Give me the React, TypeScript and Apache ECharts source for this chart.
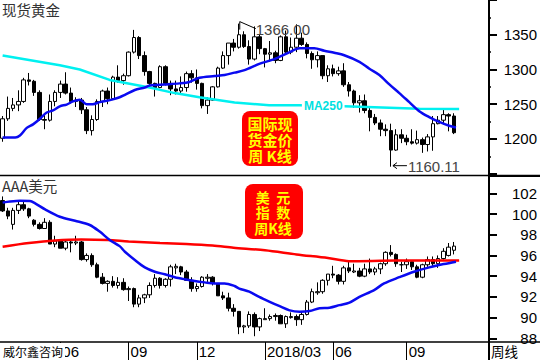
import React, { useEffect, useRef } from "react";
import * as echarts from "echarts";

// Weekly bars (Friday dates), last 6 slots are empty space on the right
const weeks = [
  "2017-03-17","2017-03-24","2017-03-31","2017-04-07","2017-04-14","2017-04-21","2017-04-28","2017-05-05","2017-05-12","2017-05-19",
  "2017-05-26","2017-06-02","2017-06-09","2017-06-16","2017-06-23","2017-06-30","2017-07-07","2017-07-14","2017-07-21","2017-07-28",
  "2017-08-04","2017-08-11","2017-08-18","2017-08-25","2017-09-01","2017-09-08","2017-09-15","2017-09-22","2017-09-29","2017-10-06",
  "2017-10-13","2017-10-20","2017-10-27","2017-11-03","2017-11-10","2017-11-17","2017-11-24","2017-12-01","2017-12-08","2017-12-15",
  "2017-12-22","2017-12-29","2018-01-05","2018-01-12","2018-01-19","2018-01-26","2018-02-02","2018-02-09","2018-02-16","2018-02-23",
  "2018-03-02","2018-03-09","2018-03-16","2018-03-23","2018-03-30","2018-04-06","2018-04-13","2018-04-20","2018-04-27","2018-05-04",
  "2018-05-11","2018-05-18","2018-05-25","2018-06-01","2018-06-08","2018-06-15","2018-06-22","2018-06-29","2018-07-06","2018-07-13",
  "2018-07-20","2018-07-27","2018-08-03","2018-08-10","2018-08-17","2018-08-24","2018-08-31","2018-09-07","2018-09-14","2018-09-21",
  "2018-09-28","2018-10-05","2018-10-12","2018-10-19","2018-10-26","2018-11-02","2018-11-09",
  "2018-11-16","2018-11-23","2018-11-30","2018-12-07","2018-12-14","2018-12-21",
];

const tickLabels: Record<string, string> = {
  "2017-06-02": "06",
  "2017-09-01": "09",
  "2017-12-01": "12",
  "2018-03-02": "2018/03",
  "2018-06-01": "06",
  "2018-09-07": "09",
};

// Gold weekly candles [open, high, low, close]
const goldCandles = [
  [1201,1233,1196,1229],[1229,1261,1226,1244],[1244,1259,1240,1249],[1249,1270,1240,1254],[1254,1288,1252,1285],
  [1285,1295,1277,1283],[1283,1285,1262,1267],[1267,1270,1226,1228],[1228,1236,1214,1227],[1227,1264,1225,1254],
  [1254,1270,1247,1267],[1267,1284,1259,1279],[1279,1296,1264,1266],[1266,1274,1251,1254],[1254,1260,1246,1256],
  [1256,1259,1236,1242],[1242,1246,1207,1212],[1212,1234,1205,1228],[1228,1257,1226,1254],[1254,1271,1246,1269],
  [1269,1274,1250,1258],[1258,1291,1256,1289],[1289,1306,1281,1284],[1284,1294,1278,1291],[1291,1326,1290,1325],
  [1325,1357,1323,1346],[1346,1348,1315,1320],[1320,1326,1291,1297],[1297,1298,1275,1280],[1280,1281,1261,1274],
  [1274,1306,1273,1304],[1304,1306,1277,1280],[1280,1284,1263,1272],[1272,1284,1264,1269],[1269,1290,1266,1274],
  [1274,1297,1268,1294],[1294,1299,1281,1288],[1288,1300,1271,1280],[1280,1281,1244,1248],[1248,1260,1236,1256],
  [1256,1276,1255,1275],[1275,1304,1274,1302],[1302,1326,1301,1320],[1320,1338,1307,1338],[1338,1344,1326,1332],
  [1332,1366,1330,1350],[1350,1355,1331,1333],[1333,1342,1307,1315],[1315,1362,1313,1347],[1347,1351,1322,1330],
  [1330,1331,1303,1322],[1322,1341,1311,1324],[1324,1327,1309,1313],[1313,1349,1312,1347],[1347,1356,1322,1325],
  [1325,1346,1322,1332],[1332,1365,1325,1345],[1345,1353,1334,1336],[1336,1339,1316,1323],[1323,1326,1301,1314],
  [1314,1326,1303,1320],[1320,1320,1286,1291],[1291,1306,1282,1301],[1301,1307,1290,1294],[1294,1304,1291,1298],
  [1298,1309,1275,1278],[1278,1282,1261,1269],[1269,1271,1245,1252],[1252,1263,1238,1255],[1255,1264,1237,1241],
  [1241,1245,1211,1231],[1231,1236,1220,1223],[1223,1228,1204,1214],[1214,1221,1204,1212],[1212,1222,1160.11,1184],
  [1184,1214,1183,1206],[1206,1214,1194,1201],[1201,1206,1191,1196],[1196,1214,1192,1194],[1194,1212,1192,1199],
  [1199,1202,1180,1192],[1192,1207,1182,1203],[1203,1233,1183,1222],[1222,1233,1221,1227],[1227,1243,1221,1235],
  [1235,1237,1211,1233],[1233,1237,1207,1209],
];

// Gold moving averages: [slot, value]
const goldMa20 = [
  [0,1202],[2.4,1202],[3.3,1205],[4.6,1216],[5.8,1221],[7.1,1229],[8.4,1238],[9.6,1241],[10.9,1247],[12.2,1249.5],
  [13.4,1254],[14.7,1256.5],[16,1250],[17.2,1250],[18.5,1253],[19.8,1255],[21,1257],[22.3,1260],[23.3,1263.5],[25.2,1270.5],
  [27.1,1274],[28,1277],[30.9,1278.5],[33.7,1280],[35.6,1282],[37.5,1288],[40.4,1290.5],[42.3,1292],[44.2,1295.5],[46.1,1299],
  [48.9,1308],[51.8,1315],[54.7,1325],[56.6,1330.5],[59.4,1330.5],[61.3,1327],[63.2,1324],[65.1,1320.5],[68,1311],[69.9,1301],
  [71.8,1292],[73.7,1278.5],[75.6,1266],[77.5,1253],[79.4,1240],[81.3,1231.5],[83.2,1224.5],[85.1,1219],[86.4,1216.5],
];
const goldMa250 = [
  [0,1320],[10.9,1306],[14.7,1300],[20.4,1285],[28,1274],[32.8,1266],[37.5,1260],[44.2,1252.5],[50.8,1248.5],
  [56.6,1248.5],[65.1,1247],[73.7,1245],[79.4,1243.5],[87,1243],
];

// US dollar index weekly candles [open, high, low, close]
const usdCandles = [
  [101.3,101.7,100.2,100.3],[100.3,100.6,99.5,99.8],[99.0,100.6,98.5,100.35],[100.35,101.2,100.0,100.9],[100.9,101.3,100.3,100.5],
  [100.5,100.6,99.6,99.8],[99.4,99.5,98.8,99.0],[99.0,99.2,98.5,98.6],[98.6,99.6,98.6,99.2],[99.2,99.4,97.1,97.1],
  [97.1,97.9,96.8,97.4],[97.4,97.5,96.7,96.7],[96.7,97.4,96.5,97.3],[97.3,97.5,96.3,97.2],[97.2,97.9,97.0,97.3],
  [97.3,97.4,95.5,95.6],[95.6,96.2,95.4,96.0],[96.0,96.2,94.9,95.1],[95.1,95.3,93.8,93.9],[93.9,94.3,93.2,93.3],
  [93.3,93.6,92.5,93.5],[93.5,94.0,92.9,93.1],[93.1,93.9,92.8,93.4],[93.4,93.8,92.6,92.7],[92.7,93.0,91.6,92.8],
  [92.8,92.9,91.0,91.3],[91.3,92.2,91.0,91.9],[91.9,92.3,91.4,92.2],[92.2,93.4,91.9,93.1],[93.1,94.2,92.9,93.8],
  [93.8,93.9,92.8,93.1],[93.1,93.8,92.9,93.7],[93.7,95.1,93.0,94.9],[94.8,95.2,94.2,94.95],[94.9,95.0,94.1,94.4],
  [94.4,94.6,93.6,93.6],[93.6,93.9,92.5,92.8],[92.8,93.3,92.5,93.0],[93.0,94.0,92.9,93.9],[93.8,94.2,93.4,93.9],
  [93.9,94.0,93.1,93.3],[93.3,93.3,92.1,92.1],[92.1,92.5,91.7,91.9],[91.9,92.4,90.6,90.9],[90.9,91.3,90.1,90.6],
  [90.6,90.6,88.4,89.1],[89.1,89.3,88.5,89.2],[89.2,90.6,89.0,90.3],[90.3,90.5,88.2,89.1],[89.1,90.0,88.7,89.9],
  [89.8,90.9,89.8,89.9],[89.9,90.3,89.7,90.1],[90.1,90.4,89.7,90.2],[90.2,90.3,89.4,89.4],[89.4,90.2,89.0,90.1],
  [90.0,90.5,89.9,90.1],[90.1,90.3,89.2,89.8],[89.8,90.6,89.3,90.3],[90.3,91.7,90.2,91.5],[91.5,92.8,91.4,92.5],
  [92.4,93.4,92.2,92.5],[92.5,93.7,92.3,93.6],[93.6,94.2,93.1,94.2],[94.2,95.0,93.8,94.1],[94.1,94.2,93.2,93.5],
  [93.5,95.0,93.2,94.8],[94.8,95.5,94.3,94.5],[94.4,95.2,94.3,94.5],[94.5,94.8,93.9,94.0],[94.0,95.2,93.9,94.7],
  [94.7,95.7,94.2,94.4],[94.4,94.9,94.1,94.7],[94.7,95.3,94.2,95.2],[95.2,96.4,95.0,96.3],[96.3,97.0,95.9,96.1],
  [96.1,96.2,94.9,95.2],[95.1,95.4,94.4,95.1],[95.1,95.7,94.7,95.4],[95.4,95.5,94.6,94.9],[94.9,95.1,93.8,93.9],
  [93.9,95.2,93.8,95.1],[95.1,95.9,94.9,95.6],[95.6,95.9,94.9,95.2],[95.2,96.0,94.8,95.7],[95.7,96.7,95.6,96.4],
  [96.0,97.2,95.9,96.8],[96.5,97.3,96.1,96.9],
];

const usdMa20 = [
  [0,101.1],[1.4,101.2],[3.3,101.27],[5.2,101.25],[6.2,101.03],[8.1,100.45],[10.9,99.74],[13.8,99.35],[16.6,98.94],[18.5,98.3],
  [20.4,97.5],[22.3,96.9],[23.3,96.36],[25.2,95.56],[27.1,94.85],[29,94.43],[30.9,94.18],[32.8,93.9],[34.7,93.7],[36.6,93.53],
  [38.5,93.4],[40.4,93.3],[42.3,93.3],[44.2,93.05],[45.1,92.8],[47,92.5],[48.9,92.0],[50.8,91.55],[52.8,91.1],[54.7,90.7],
  [56.6,90.57],[58.5,90.63],[60.4,90.9],[62.3,90.95],[64.2,91.2],[66.1,91.45],[68,92.0],[70.8,92.66],[72.7,93.3],[75.6,93.9],
  [78.4,94.43],[81.3,94.85],[84.1,95.17],[86.4,95.4],
];
const usdMa250 = [
  [0,96.85],[5,97.2],[10,97.45],[15,97.55],[20,97.5],[24,97.35],[30,97.2],[35,97.1],[40,96.95],[44,96.75],
  [50,96.5],[56,96.1],[62,95.75],[66,95.45],[75,95.5],[80,95.5],[87,95.5],
];

const goldTicks = { min: 1150, max: 1400, step: 50 };
const usdTicks = { min: 88, max: 102, step: 2 };

const NUM_FONT = "'Liberation Sans', Arial, sans-serif";
const CJK_FONT = "'Noto Sans CJK SC', 'Noto Sans', sans-serif";

export default function App() {
  const ref = useRef<HTMLDivElement>(null);

  useEffect(() => {
    const el = ref.current;
    if (!el) return;
    const chart = echarts.init(el, null, { renderer: "svg" });
    const n = weeks.length;
    const goldData = goldCandles.map(([o, h, l, c]) => [o, c, l, h]);
    const usdData = usdCandles.map(([o, h, l, c]) => [o, c, l, h]);
    const isTick = (_i: number, v: string) => v in tickLabels;

    const candleStyle = {
      color: "#ffffff",
      color0: "#000000",
      borderColor: "#000000",
      borderColor0: "#000000",
      borderWidth: 1,
    };

    const yAxisBase = (t: { min: number; max: number; step: number }, minorShow: boolean, lo: number, hi: number) => ({
      type: "value",
      position: "right",
      min: t.min,
      max: t.max,
      interval: t.step,
      axisLine: { show: false, onZero: false },
      axisTick: { show: true, length: 9, lineStyle: { color: "#000", width: 2 } },
      minorTick: { show: minorShow, splitNumber: 2, length: 3, lineStyle: { color: "#000", width: 1.5 } },
      splitLine: { show: false },
      minorSplitLine: { show: false },
      axisLabel: {
        align: "right",
        margin: 49,
        fontSize: 15,
        fontFamily: NUM_FONT,
        color: "#000",
        formatter: (v: number) => (v >= lo && v <= hi ? String(v) : ""),
      },
    });

    const option: any = {
      animation: false,
      backgroundColor: "#ffffff",
      grid: [
        { left: 0, right: 51, top: -3.0, height: 176.7 },
        { left: 0, right: 51, top: 193.3, height: 145 },
      ],
      xAxis: [
        { type: "category", gridIndex: 0, data: weeks, boundaryGap: true, show: false, axisLine: { onZero: false } },
        { type: "value", gridIndex: 0, min: -0.5, max: n - 0.5, show: false, axisLine: { onZero: false } },
        {
          type: "category",
          gridIndex: 1,
          data: weeks,
          boundaryGap: true,
          offset: 3.7,
          axisLine: { show: false, onZero: false },
          axisTick: { show: true, alignWithLabel: true, interval: isTick, length: 18, inside: false, lineStyle: { color: "#000", width: 1 } },
          axisLabel: {
            interval: isTick,
            formatter: (v: string) => tickLabels[v] ?? "",
            align: "left",
            margin: 2,
            padding: [0, 0, 0, 2],
            fontSize: 15,
            fontFamily: NUM_FONT,
            color: "#000",
          },
          splitLine: { show: false },
        },
        { type: "value", gridIndex: 1, min: -0.5, max: n - 0.5, show: false, axisLine: { onZero: false } },
      ],
      yAxis: [
        { ...yAxisBase(goldTicks, true, 1200, 1350), gridIndex: 0 },
        { ...yAxisBase(usdTicks, false, 88, 102), gridIndex: 1 },
      ],
      series: [
        { type: "candlestick", xAxisIndex: 0, yAxisIndex: 0, data: goldData, barWidth: 4, itemStyle: candleStyle },
        { type: "line", xAxisIndex: 1, yAxisIndex: 0, data: goldMa250, symbol: "none", lineStyle: { color: "#00f0f0", width: 2.5 }, z: 3 },
        { type: "line", xAxisIndex: 1, yAxisIndex: 0, data: goldMa20, symbol: "none", smooth: 0.3, lineStyle: { color: "#0a0af0", width: 2.5 }, z: 4 },
        { type: "candlestick", xAxisIndex: 2, yAxisIndex: 1, data: usdData, barWidth: 4, itemStyle: candleStyle },
        { type: "line", xAxisIndex: 3, yAxisIndex: 1, data: usdMa250, symbol: "none", smooth: 0.3, lineStyle: { color: "#ff0000", width: 2.5 }, z: 3 },
        { type: "line", xAxisIndex: 3, yAxisIndex: 1, data: usdMa20, symbol: "none", smooth: 0.3, lineStyle: { color: "#0a0af0", width: 2.5 }, z: 4 },
      ],
    };
    chart.setOption(option);

    // annotation anchors from the library's scales
    let hiIdx = 0;
    let loIdx = 0;
    goldCandles.forEach((c, i) => {
      if (c[1] > goldCandles[hiIdx][1]) hiIdx = i;
      if (c[2] < goldCandles[loIdx][2]) loIdx = i;
    });
    const hiVal = goldCandles[hiIdx][1];
    const loVal = goldCandles[loIdx][2];
    const hp = chart.convertToPixel({ seriesIndex: 0 }, [hiIdx, hiVal]) as number[];
    const lp = chart.convertToPixel({ seriesIndex: 0 }, [loIdx, loVal]) as number[];
    const maLab = chart.convertToPixel({ seriesIndex: 1 }, [61.1, 1247.7]) as number[];

    const black = { stroke: "#000", lineWidth: 1 };
    const boxText = (text: string, x: number, y: number, size: number, lh: number) => ({
      type: "text",
      x,
      y,
      style: {
        text,
        font: `bold ${size}px ${CJK_FONT}`,
        fill: "#ffff00",
        textAlign: "center",
        textVerticalAlign: "middle",
        lineHeight: lh,
      },
      z: 61,
    });
    const graphic: any[] = [
      // frame lines
      { type: "line", shape: { x1: 0, y1: 175.5, x2: 540, y2: 175.5 }, style: { stroke: "#000", lineWidth: 1.5 }, z: 50 },
      { type: "line", shape: { x1: 489, y1: 176, x2: 540, y2: 176 }, style: { stroke: "#000", lineWidth: 2 }, z: 50 },
      { type: "line", shape: { x1: 0, y1: 342, x2: 540, y2: 342 }, style: { stroke: "#000", lineWidth: 1.5 }, z: 50 },
      { type: "line", shape: { x1: 489, y1: 0, x2: 489, y2: 360 }, style: { stroke: "#000", lineWidth: 2 }, z: 50 },
      // panel titles
      { type: "text", left: 2, top: 2, style: { text: "现货黄金", font: `14.5px ${CJK_FONT}`, fill: "#333" }, z: 60 },
      { type: "text", left: 2, top: 178, style: { text: "AAA美元", font: `14.5px ${CJK_FONT}`, fill: "#333" }, z: 60 },
      // bottom strip texts
      { type: "rect", shape: { x: 0, y: 343, width: 65, height: 17 }, style: { fill: "#fff" }, z: 55 },
      { type: "text", x: 3, y: 351.5, style: { text: "威尔鑫咨询", font: `12px ${CJK_FONT}`, fill: "#000", textVerticalAlign: "middle" }, z: 60 },
      { type: "text", x: 491, y: 351, style: { text: "周线", font: `13.5px ${CJK_FONT}`, fill: "#000", textVerticalAlign: "middle" }, z: 60 },
      // red info boxes
      { type: "rect", shape: { x: 242, y: 111, width: 56, height: 55, r: 8 }, style: { fill: "#ff0000" }, z: 60 },
      boxText("国际现\n货金价\n周 K线", 270, 139, 15, 16),
      { type: "rect", shape: { x: 245, y: 184, width: 58, height: 55, r: 8 }, style: { fill: "#ff0000" }, z: 60 },
      boxText("美  元\n指  数\n周K线", 273, 212, 14, 15.5),
      // MA250 label on the cyan line
      { type: "text", x: maLab[0], y: maLab[1], style: { text: "MA250", font: `bold 12px ${NUM_FONT}`, fill: "#00e0e0", textAlign: "center", textVerticalAlign: "middle", backgroundColor: "#fff", padding: [0, 2] }, z: 40 },
      // high annotation
      { type: "polyline", shape: { points: [[hp[0] + 1, hp[1] + 6], [hp[0] + 1, hp[1] - 2], [hp[0] + 17, hp[1] + 5]] }, style: { ...black, fill: null }, z: 45 },
      { type: "text", x: hp[0] + 17, y: hp[1] + 6, style: { text: hiVal.toFixed(2), font: `15px ${NUM_FONT}`, fill: "#444", textVerticalAlign: "middle" }, z: 45 },
      // low annotation
      { type: "polyline", shape: { points: [[lp[0] + 16, lp[1] - 1], [lp[0] + 2, lp[1] - 1]] }, style: { ...black, fill: null }, z: 45 },
      { type: "polyline", shape: { points: [[lp[0] + 6, lp[1] - 4], [lp[0] + 2, lp[1] - 1], [lp[0] + 6, lp[1] + 2]] }, style: { ...black, fill: null }, z: 45 },
      { type: "text", x: lp[0] + 17, y: lp[1], style: { text: loVal.toFixed(2), font: `15px ${NUM_FONT}`, fill: "#444", textVerticalAlign: "middle" }, z: 45 },
    ];
    chart.setOption({ graphic });

    return () => chart.dispose();
  }, []);

  return (
    <div
      ref={ref}
      style={{ position: "absolute", left: 0, top: 0, width: 540, height: 360, background: "#fff" }}
    />
  );
}
